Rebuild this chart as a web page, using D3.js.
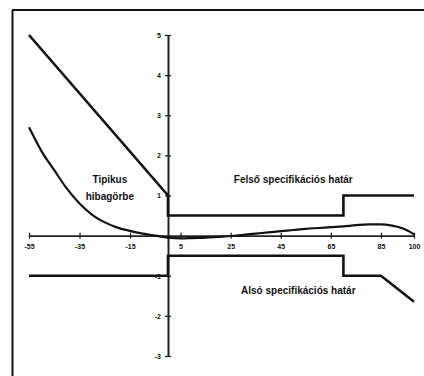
<!DOCTYPE html>
<html><head><meta charset="utf-8">
<script src="https://cdn.jsdelivr.net/npm/d3@7"></script>
<style>
html,body{margin:0;padding:0;background:#fff;}
svg{display:block;}
text{font-family:"Liberation Sans",Arial,sans-serif;}
</style></head>
<body>
<script>
// ---- data ----
const xTicks = [-55, -35, -15, 5, 25, 45, 65, 85, 100];
const yTicks = [5, 4, 3, 2, 1, -1, -2, -3];
const curveX = [-55, -50, -45, -40, -35, -30, -25, -20, -15, -10, -5, 0, 5, 10, 15, 20, 25, 30, 35, 40, 45, 50, 55, 60, 65, 70, 75, 80, 85, 90, 95, 98, 100];
const curveY = [2.7, 2.1, 1.63, 1.17, 0.8, 0.52, 0.33, 0.2, 0.12, 0.05, 0.0, -0.05, -0.07, -0.06, -0.05, -0.03, -0.01, 0.02, 0.05, 0.08, 0.11, 0.14, 0.17, 0.19, 0.21, 0.23, 0.26, 0.28, 0.28, 0.25, 0.18, 0.1, 0.03];
const upperX = [-55, 0, 0, 70, 70, 100];
const upperY = [5, 1, 0.5, 0.5, 1, 1];
const lowerX = [-55, 0, 0, 70, 70, 85, 100];
const lowerY = [-1, -1, -0.5, -0.5, -1, -1, -1.65];
const labels = ["Tipikus", "hibagörbe", "Felső specifikációs határ", "Alsó specifikációs határ"];

const W = 424, H = 376;
const svg = d3.select("body").append("svg").attr("width", W).attr("height", H);

const x = d3.scaleLinear().domain([-55, 0, 85, 100]).range([29, 168, 381, 414]);
const y = d3.scaleLinear().domain([-3, 5]).range([356, 35]);

// frame
svg.append("line").attr("x1", 12).attr("x2", W).attr("y1", 10).attr("y2", 10)
  .attr("stroke", "#111").attr("stroke-width", 2);
svg.append("line").attr("x1", 12.5).attr("x2", 12.5).attr("y1", 10).attr("y2", H)
  .attr("stroke", "#111").attr("stroke-width", 2);

// x axis
const gx = svg.append("g").attr("transform", `translate(0,${y(0)})`)
  .call(d3.axisBottom(x).tickValues(xTicks).tickFormat(d => String(d)).tickSizeOuter(0).tickSizeInner(3).tickPadding(5));
gx.select(".domain").attr("stroke", "#222").attr("stroke-width", 1.6);
gx.selectAll(".tick line").attr("y1", -3).attr("y2", 3).attr("stroke", "#222").attr("stroke-width", 1.3);
gx.selectAll(".tick text").attr("font-size", 7).attr("font-weight", "bold").attr("fill", "#111");

// y axis
const gy = svg.append("g").attr("transform", `translate(${x(0)},0)`)
  .call(d3.axisLeft(y).tickValues(yTicks).tickFormat(d => String(d)).tickSizeOuter(0).tickSizeInner(3).tickPadding(4));
gy.select(".domain").attr("stroke", "#222").attr("stroke-width", 2);
gy.selectAll(".tick line").attr("x1", -3).attr("x2", 3).attr("stroke", "#222").attr("stroke-width", 1.3);
gy.selectAll(".tick text").attr("font-size", 7).attr("font-weight", "bold").attr("fill", "#111");

const line = d3.line().x(d => x(d[0])).y(d => y(d[1]));

svg.append("path").datum(upperX.map((v, i) => [v, upperY[i]]))
  .attr("d", line).attr("fill", "none").attr("stroke", "#111").attr("stroke-width", 2.6);
svg.append("path").datum(lowerX.map((v, i) => [v, lowerY[i]]))
  .attr("d", line).attr("fill", "none").attr("stroke", "#111").attr("stroke-width", 2.6);
svg.append("path").datum(curveX.map((v, i) => [v, curveY[i]]))
  .attr("d", d3.line().curve(d3.curveMonotoneX).x(d => x(d[0])).y(d => y(d[1])))
  .attr("fill", "none").attr("stroke", "#111").attr("stroke-width", 2.2);

// labels
const lab = (t, cx, cy) => svg.append("text").text(t).attr("x", cx).attr("y", cy)
  .attr("text-anchor", "middle").attr("font-size", 10).attr("font-weight", "bold").attr("fill", "#111");
lab(labels[0], x(-23), y(1.3));
lab(labels[1], x(-23), y(0.88));
lab(labels[2], x(50), y(1.3));
lab(labels[3], x(52), y(-1.45));
</script>
</body></html>
